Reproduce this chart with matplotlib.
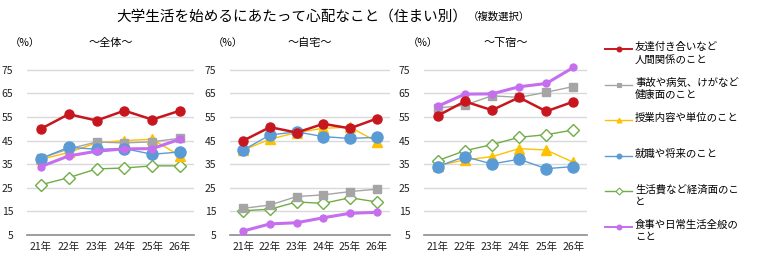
import matplotlib.pyplot as plt
from matplotlib.lines import Line2D

plt.rcParams['font.family'] = ['Noto Sans CJK JP', 'DejaVu Sans']

years = ['21年', '22年', '23年', '24年', '25年', '26年']
yticks = [5, 15, 25, 35, 45, 55, 65, 75]

labels = ['友達付き合いなど\n人間関係のこと', '事故や病気、けがなど\n健康面のこと', '授業内容や単位のこと',
          '就職や将来のこと', '生活費など経済面のこ\nと', '食事や日常生活全般の\nこと']

# 全体
all_friends = [50.0, 56.2, 53.5, 57.7, 53.9, 57.7]
all_health = [37.5, 41.5, 44.4, 44.0, 44.5, 46.0]
all_class = [37.0, 40.0, 44.0, 45.0, 45.6, 38.5]
all_career = [37.4, 42.2, 41.3, 41.6, 39.2, 40.2]
all_money = [26.3, 29.3, 33.0, 33.4, 34.3, 34.3]
all_life = [34.0, 38.5, 40.5, 41.5, 41.6, 45.6]

# 自宅
home_friends = [45.0, 50.7, 48.4, 52.1, 50.2, 54.3]
home_health = [16.3, 17.7, 21.3, 22.0, 23.4, 24.4]
home_class = [41.0, 45.6, 48.4, 50.2, 50.7, 44.6]
home_career = [41.0, 47.4, 48.7, 46.7, 45.9, 46.4]
home_money = [15.3, 15.9, 19.0, 18.4, 20.8, 19.0]
home_life = [6.7, 9.7, 10.2, 12.3, 14.2, 14.6]

# 下宿
away_friends = [55.5, 61.6, 57.9, 63.3, 57.4, 61.5]
away_health = [58.8, 60.0, 64.0, 63.3, 65.5, 67.9]
away_class = [34.4, 36.8, 38.2, 41.6, 41.0, 35.8]
away_career = [34.0, 38.2, 35.1, 37.1, 33.1, 34.0]
away_money = [36.5, 40.7, 43.3, 46.4, 47.5, 49.5]
away_life = [59.5, 64.7, 64.8, 67.8, 69.2, 76.0]

panels = [
    ('～全体～', [all_friends, all_health, all_class, all_career, all_money, all_life]),
    ('～自宅～', [home_friends, home_health, home_class, home_career, home_money, home_life]),
    ('～下宿～', [away_friends, away_health, away_class, away_career, away_money, away_life]),
]

# color, marker, markersize, linewidth, filled, zorder
styles = [
    ('#C8161E', 'o', 6.5, 1.8, True, 8),
    ('#A5A5A5', 's', 6, 1.0, True, 5),
    ('#FFC000', '^', 7, 1.0, True, 4),
    ('#5B9BD5', 'o', 8, 1.0, True, 6),
    ('#70AD47', 'D', 6, 1.0, False, 3),
    ('#C56EEE', 'o', 5, 2.2, True, 7),
]

W, H = 768, 274
fig = plt.figure(figsize=(W / 100, H / 100), dpi=100)

axes_px = [(27, 167), (230, 160), (424, 163)]
title_x = [111, 310, 506]
pct_x = [25, 228, 423]
bottom = 1 - 235 / H
top = 1 - 58 / H

for (left, width), (name, series), tx, px in zip(axes_px, panels, title_x, pct_x):
    ax = fig.add_axes([left / W, bottom, width / W, top - bottom])
    x = range(len(years))
    for vals, (c, m, ms, lw, filled, z) in zip(series, styles):
        ax.plot(x, vals, color=c, lw=lw, marker=m, ms=ms,
                markerfacecolor=c if filled else 'white', markeredgecolor=c,
                markeredgewidth=1.0, zorder=z, clip_on=False)
    ax.set_xlim(-0.5, 5.5)
    ax.set_ylim(5, 80)
    ax.set_yticks(yticks)
    ax.set_xticks(list(x))
    ax.set_xticklabels(years)
    ax.tick_params(length=0, labelsize=7.5, colors='#222222')
    ax.tick_params(axis='y', pad=10)
    ax.tick_params(axis='x', pad=5)
    for s in ['top', 'right', 'left']:
        ax.spines[s].set_visible(False)
    ax.spines['bottom'].set_color('#8C8C8C')
    ax.spines['bottom'].set_linewidth(1.2)
    for t in yticks[1:]:
        ax.axhline(t, color='#D9D9D9', lw=1.0, zorder=0)
    fig.text(tx / W, 1 - 43 / H, name, fontsize=8, ha='center', va='center')
    fig.text(px / W, 1 - 43 / H, '（%）', fontsize=7.5, ha='center', va='center')

fig.text(292 / W, 1 - 17 / H, '大学生活を始めるにあたって心配なこと（住まい別）',
         fontsize=10.5, ha='center', va='center')
fig.text(499 / W, 1 - 17 / H, '（複数選択）', fontsize=7.5, ha='center', va='center')

# legend drawn by hand
for i, (lab, (c, m, ms, lw, filled, z)) in enumerate(zip(labels, styles)):
    yy = 1 - (49 + i * 35.6) / H
    fig.add_artist(Line2D([605 / W, 632 / W], [yy, yy], color=c, lw=1.4 if lw > 1.5 else 1.0,
                          marker=None, transform=fig.transFigure))
    fig.add_artist(Line2D([618.5 / W], [yy], color=c, marker=m, ms=3.5,
                          markerfacecolor=c if filled else 'white', markeredgecolor=c,
                          markeredgewidth=0.8, transform=fig.transFigure))
    fig.text(635 / W, yy + 7 / H, lab, fontsize=7.5, ha='left', va='top', linespacing=1.25)

fig.savefig('out.png', dpi=100)
